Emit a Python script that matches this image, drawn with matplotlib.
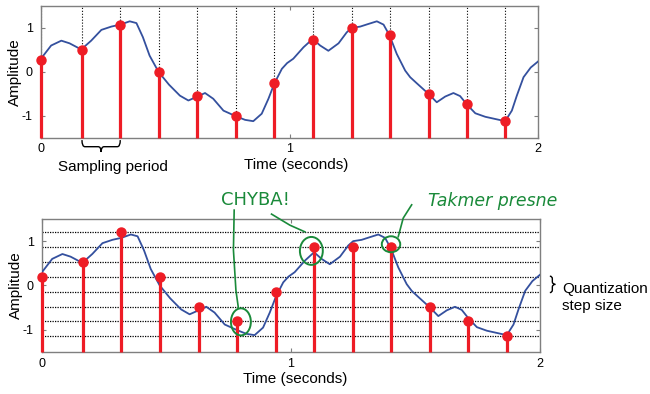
import matplotlib
matplotlib.use('Agg')
import matplotlib.pyplot as plt
from matplotlib.path import Path
from matplotlib.patches import PathPatch, Ellipse

plt.rcParams['font.family'] = ['Liberation Sans', 'DejaVu Sans']

# spojity signal (odcitany z obrazku)
curve_t = [0.000, 0.041, 0.082, 0.115, 0.162, 0.202, 0.243, 0.283, 0.319, 0.357,
           0.384, 0.410, 0.437, 0.473, 0.515, 0.559, 0.593, 0.629, 0.660, 0.693,
           0.734, 0.785, 0.821, 0.854, 0.888, 0.915, 0.939, 0.969, 0.990, 1.015,
           1.056, 1.093, 1.123, 1.156, 1.197, 1.230, 1.250, 1.284, 1.317, 1.351,
           1.378, 1.402, 1.431, 1.465, 1.485, 1.510, 1.559, 1.592, 1.626, 1.659,
           1.686, 1.713, 1.747, 1.787, 1.827, 1.867, 1.894, 1.914, 1.941, 1.970, 2.000]
curve_v = [0.30, 0.60, 0.71, 0.65, 0.51, 0.71, 0.955, 1.03, 1.075, 1.15,
           1.11, 0.79, 0.37, 0.00, -0.29, -0.54, -0.65, -0.56, -0.48, -0.61,
           -0.88, -1.01, -1.09, -1.12, -0.95, -0.61, -0.26, 0.07, 0.20, 0.30,
           0.56, 0.75, 0.60, 0.48, 0.65, 0.90, 1.00, 1.03, 1.09, 1.15,
           1.075, 0.83, 0.41, 0.03, -0.12, -0.25, -0.50, -0.69, -0.56, -0.48,
           -0.55, -0.74, -0.94, -1.02, -1.07, -1.12, -0.88, -0.54, -0.12, 0.10, 0.24]

# vzorky
sample_t = [0.000, 0.165, 0.319, 0.473, 0.629, 0.785, 0.939, 1.093, 1.250, 1.402, 1.559, 1.713, 1.867]
sample_v = [0.28, 0.50, 1.07, 0.00, -0.55, -1.01, -0.26, 0.73, 0.99, 0.83, -0.50, -0.74, -1.12]

# kvantovane vzorky a urovne
quant_v = [0.19, 0.53, 1.21, 0.19, -0.48, -0.81, -0.14, 0.87, 0.87, 0.87, -0.48, -0.81, -1.15]
levels = [-1.15, -0.81, -0.48, -0.14, 0.19, 0.53, 0.87, 1.21]

xticks = [0, 1, 2]
yticks = [-1, 0, 1]

RED = '#ee1c25'
BLUE = '#34509e'
GREEN = '#1a8a3a'
FRAME = '#7f7f7f'


def style_axes(ax):
    ax.set_xlim(0, 2)
    ax.set_ylim(-1.5, 1.5)
    ax.set_xticks(xticks)
    ax.set_yticks(yticks)
    ax.set_xticklabels([str(v) for v in xticks])
    ax.set_yticklabels([str(v) for v in yticks])
    ax.tick_params(direction='in', top=True, right=True, length=3, width=0.8,
                   color=FRAME, labelsize=9, pad=4)
    ax.tick_params(axis='y', pad=6)
    for s in ax.spines.values():
        s.set_color(FRAME)
        s.set_linewidth(1.0)
    ax.set_ylabel('Amplitude', fontsize=11)
    ax.set_xlabel('Time (seconds)', fontsize=11)


def draw_stems(ax, t, v):
    ml, sl, bl = ax.stem(t, v, bottom=-1.5, basefmt=' ')
    sl.set_color(RED)
    sl.set_linewidth(2.3)
    sl.set_zorder(4)
    sl.set_clip_on(False)
    ml.set_color(RED)
    ml.set_markersize(6.5)
    ml.set_zorder(5)
    ml.set_clip_on(False)


def brace_h(ax, x0, x1, ytop, ymid, ybot, w):
    xm = (x0 + x1) / 2
    verts = [(x0, ytop), (x0, ymid), (x0 + w, ymid),
             (xm - w, ymid), (xm, ymid), (xm, ybot),
             (xm, ymid), (xm + w, ymid),
             (x1 - w, ymid), (x1, ymid), (x1, ytop)]
    codes = [Path.MOVETO, Path.CURVE3, Path.CURVE3,
             Path.LINETO, Path.CURVE3, Path.CURVE3,
             Path.CURVE3, Path.CURVE3,
             Path.LINETO, Path.CURVE3, Path.CURVE3]
    ax.add_patch(PathPatch(Path(verts, codes), fc='none', ec='black', lw=1.0, clip_on=False))


def brace_v(ax, y0, y1, xleft, xmid, xtip, h):
    ym = (y0 + y1) / 2
    verts = [(xleft, y0), (xmid, y0), (xmid, y0 - h),
             (xmid, ym + h), (xmid, ym), (xtip, ym),
             (xmid, ym), (xmid, ym - h),
             (xmid, y1 + h), (xmid, y1), (xleft, y1)]
    codes = [Path.MOVETO, Path.CURVE3, Path.CURVE3,
             Path.LINETO, Path.CURVE3, Path.CURVE3,
             Path.CURVE3, Path.CURVE3,
             Path.LINETO, Path.CURVE3, Path.CURVE3]
    ax.add_patch(PathPatch(Path(verts, codes), fc='none', ec='black', lw=1.0, clip_on=False))


fig = plt.figure(figsize=(6.5, 3.94), dpi=100)

# --- horny graf: vzorkovanie ---
ax1 = fig.add_axes([0.063, 0.650, 0.765, 0.335])
ax1.vlines(sample_t, -1.5, 1.5, colors='black', linestyles=':', linewidth=0.8, zorder=1)
ax1.plot(curve_t, curve_v, color=BLUE, linewidth=1.3, zorder=3, solid_joinstyle='round')
draw_stems(ax1, sample_t, sample_v)
style_axes(ax1)
ax1.yaxis.set_label_coords(-0.038, 0.5)
ax1.xaxis.set_label_coords(0.513, -0.15)

brace_h(ax1, sample_t[1], sample_t[2], -1.55, -1.70, -1.82, 0.012)
ax1.text(0.29, -2.0, 'Sampling period', fontsize=11, ha='center', va='top')

# --- dolny graf: kvantovanie ---
ax2 = fig.add_axes([0.0646, 0.1066, 0.766, 0.3376])
ax2.hlines(levels, 0, 2, colors='black', linestyles=(0, (1, 1)), linewidth=0.9, zorder=1)
ax2.plot(curve_t, curve_v, color=BLUE, linewidth=1.3, zorder=3, solid_joinstyle='round')
draw_stems(ax2, sample_t, quant_v)
style_axes(ax2)
ax2.yaxis.set_label_coords(-0.038, 0.5)
ax2.xaxis.set_label_coords(0.508, -0.15)

brace_v(ax2, levels[4] + 0.02, levels[3] - 0.02, 2.040, 2.050, 2.062, 0.06)
ax2.text(2.088, -0.27, 'Quantization\nstep size', fontsize=11, ha='left', va='center',
         linespacing=1.3)

# rucne poznamky
ax2.add_patch(Ellipse((sample_t[5] + 0.014, quant_v[5] - 0.01), 0.080, 0.61,
                      fill=False, ec=GREEN, lw=1.4, clip_on=False, zorder=6))
ax2.add_patch(Ellipse((sample_t[7] - 0.011, quant_v[7] - 0.09), 0.092, 0.63,
                      fill=False, ec=GREEN, lw=1.4, clip_on=False, zorder=6))
ax2.add_patch(Ellipse((sample_t[9], quant_v[9] + 0.06), 0.074, 0.36,
                      fill=False, ec=GREEN, lw=1.4, clip_on=False, zorder=6))

ax2.plot([0.772, 0.769, 0.779, 0.789], [1.70, 0.80, -0.11, -0.51],
         color=GREEN, lw=1.2, clip_on=False, zorder=6)
ax2.plot([0.922, 0.996, 1.056], [1.61, 1.36, 1.21],
         color=GREEN, lw=1.2, clip_on=False, zorder=6)
ax2.plot([1.485, 1.451, 1.431], [1.82, 1.52, 1.10],
         color=GREEN, lw=1.2, clip_on=False, zorder=6)

ax2.text(0.859, 1.92, 'CHYBA!', fontsize=13, color=GREEN, ha='center', va='center',
         family='DejaVu Sans', clip_on=False)
ax2.text(1.811, 1.91, 'Takmer presne', fontsize=12.5, color=GREEN, ha='center', va='center',
         family='DejaVu Sans', fontstyle='italic', clip_on=False)

fig.savefig('out.png', dpi=100)
